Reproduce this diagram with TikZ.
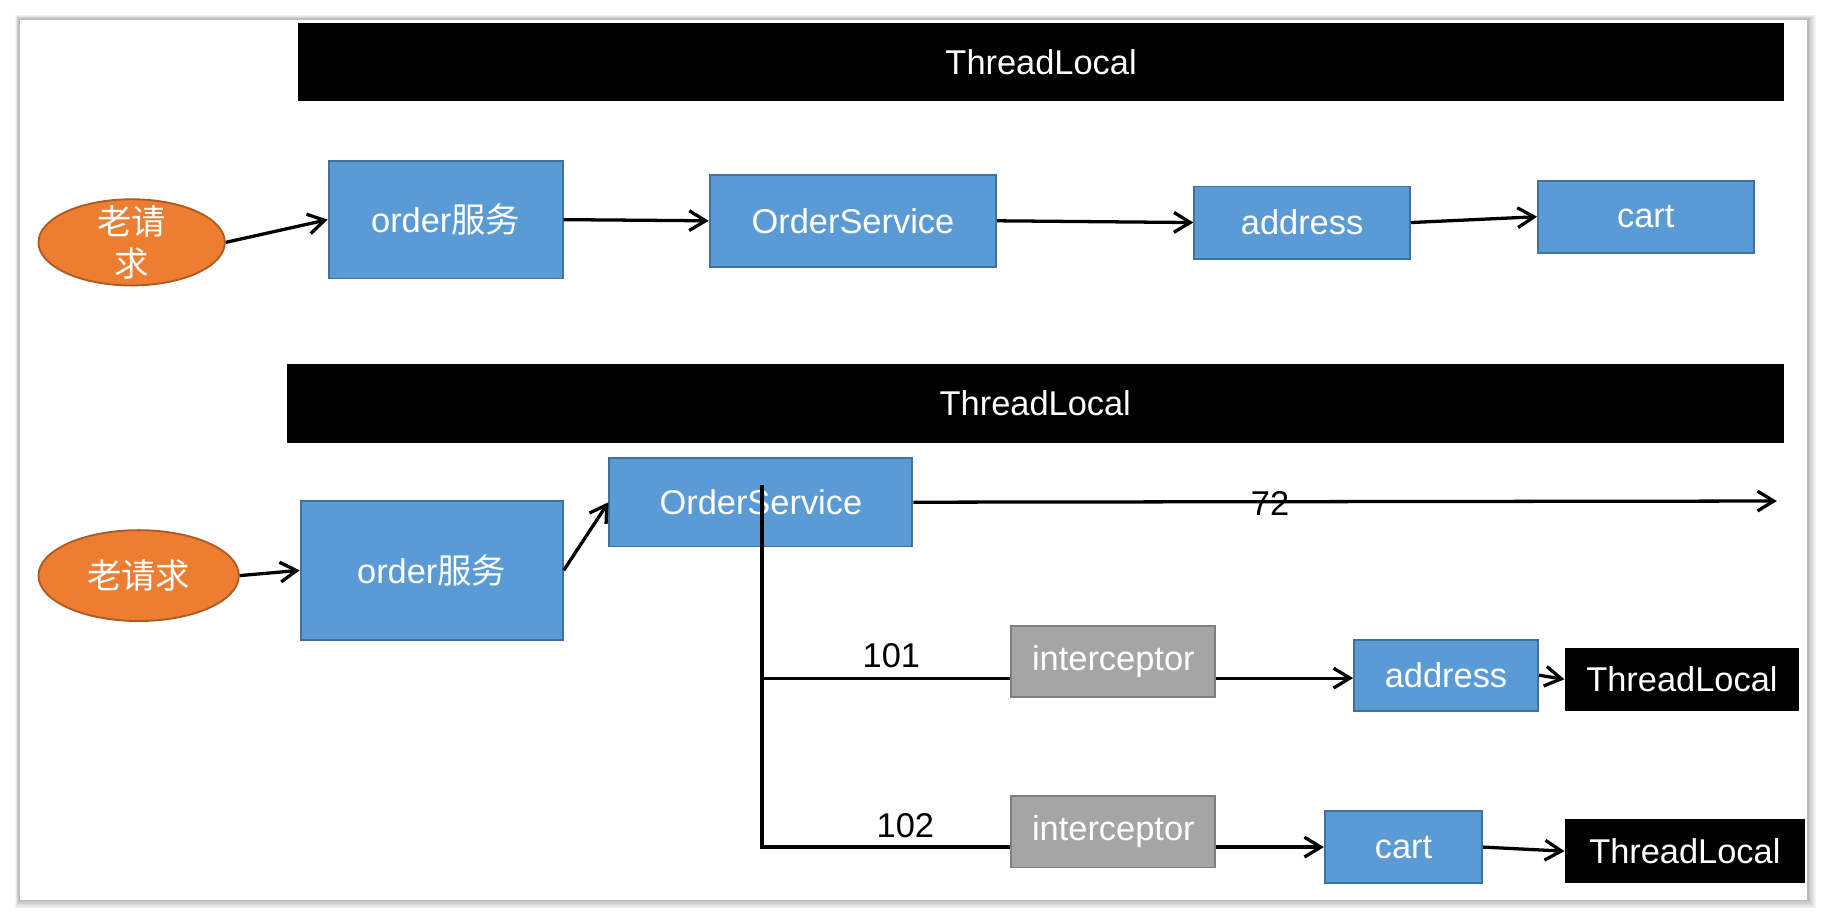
\documentclass[tikz,border=0pt]{standalone}
\usepackage{fontspec}
\setmainfont{Liberation Sans}
\newfontfamily\cjk{Noto Sans CJK SC}
\usetikzlibrary{arrows.meta}
\usetikzlibrary{shapes.geometric}

\definecolor{boxblue}{HTML}{5B9BD5}
\definecolor{blueline}{HTML}{41719C}
\definecolor{reqorange}{HTML}{ED7D31}
\definecolor{reqline}{HTML}{AE5A21}
\definecolor{icpgray}{HTML}{A5A5A5}
\definecolor{icpline}{HTML}{7F7F7F}

\begin{document}
\begin{tikzpicture}[x=0.2mm,y=-0.2mm,
  every node/.style={font=\fontsize{16.8pt}{20.4pt}\selectfont, inner sep=0pt},
  svc/.style={draw=blueline, fill=boxblue, text=white, line width=0.9pt},
  req/.style={ellipse, draw=reqline, fill=reqorange, text=white, line width=0.9pt, align=center},
  icp/.style={draw=icpline, fill=icpgray, text=white, line width=0.9pt,
    minimum width=3.5cm, minimum height=1.22cm},
  tlbar/.style={fill=black, text=white},
  link/.style={line width=1.6pt, -{Straight Barb[length=2.8mm,width=3.4mm]}},
  wire/.style={line width=1.6pt}]
\useasboundingbox (0,0) rectangle (1568,788.7);
% panel with its shadow
\foreach \s in {1,...,6}
  \fill[black, opacity=0.05] (17-0.7*\s,17-0.7*\s) rectangle (1551+1.2*\s,772+1.2*\s);
\fill[white] (17,17) rectangle (1551,772);

% first request
\node[tlbar, minimum width=25.5cm, minimum height=1.34cm] (tl1) at (893.5,53.5) {ThreadLocal};
\node[req, minimum width=3.2cm, minimum height=1.48cm, inner ysep=-2mm] (req1) at (113,208) {\cjk 老请\\\cjk 求};
\node[svc, minimum width=4.02cm, minimum height=2.02cm] (ord1) at (382.5,188.5) {order{\cjk 服务}};
\node[svc, minimum width=4.92cm, minimum height=1.58cm] (svc1) at (732,189.5) {OrderService};
\node[svc, minimum width=3.7cm, minimum height=1.24cm] (addr1) at (1117.5,191) {address};
\node[svc, minimum width=3.7cm, minimum height=1.24cm] (cart1) at (1412.5,186) {cart};
\draw[link] (req1.east) -- (ord1.west);
\draw[link] (ord1.east) -- (svc1.west);
\draw[link] (svc1.east) -- (addr1.west);
\draw[link] (addr1.east) -- (cart1.west);

% second request
\node[tlbar, minimum width=25.7cm, minimum height=1.36cm] (tl2) at (888.5,346) {ThreadLocal};
\node[req, minimum width=3.44cm, minimum height=1.56cm] (req2) at (119,494) {\cjk 老请求};
\node[svc, minimum width=4.5cm, minimum height=2.38cm] (ord2) at (370.5,489.5) {order{\cjk 服务}};
\node[svc, minimum width=5.2cm, minimum height=1.52cm] (svc2) at (653,431) {OrderService};
\node[icp] (icp1) at (955.5,568) {interceptor};
\node[icp] (icp2) at (955.5,714) {interceptor};
\node[svc, minimum width=3.16cm, minimum height=1.22cm] (addr2) at (1241,579.5) {address};
\node[svc, minimum width=2.7cm, minimum height=1.24cm] (cart2) at (1204.5,727) {cart};
\node[tlbar, minimum width=4.02cm, minimum height=1.08cm] (tl3) at (1443.5,583) {ThreadLocal};
\node[tlbar, minimum width=4.12cm, minimum height=1.1cm] (tl4) at (1446,730.5) {ThreadLocal};
\node (n72) at (1090,432) {72};
\node (n101) at (765,563) {101};
\node (n102) at (777,709) {102};

\coordinate (end72) at (1525,430);
\coordinate (fork) at (654,416);
\coordinate (j1) at (654,582);
\coordinate (j2) at (654,727);
\draw[link] (req2.east) -- (ord2.west);
\draw[link] (ord2.east) -- (svc2.west);
\draw[link] (svc2.east) -- (end72);
\draw[wire] (fork) -- (j2) -- (j2 -| icp2.west);
\draw[wire] (j1) -- (j1 -| icp1.west);
\draw[link] (icp1.east |- j1) -- (addr2.west |- j1);
\draw[link] (icp2.east |- j2) -- (cart2.west);
\draw[link] (addr2.east) -- (tl3.west);
\draw[link] (cart2.east) -- (tl4.west);
\end{tikzpicture}
\end{document}
